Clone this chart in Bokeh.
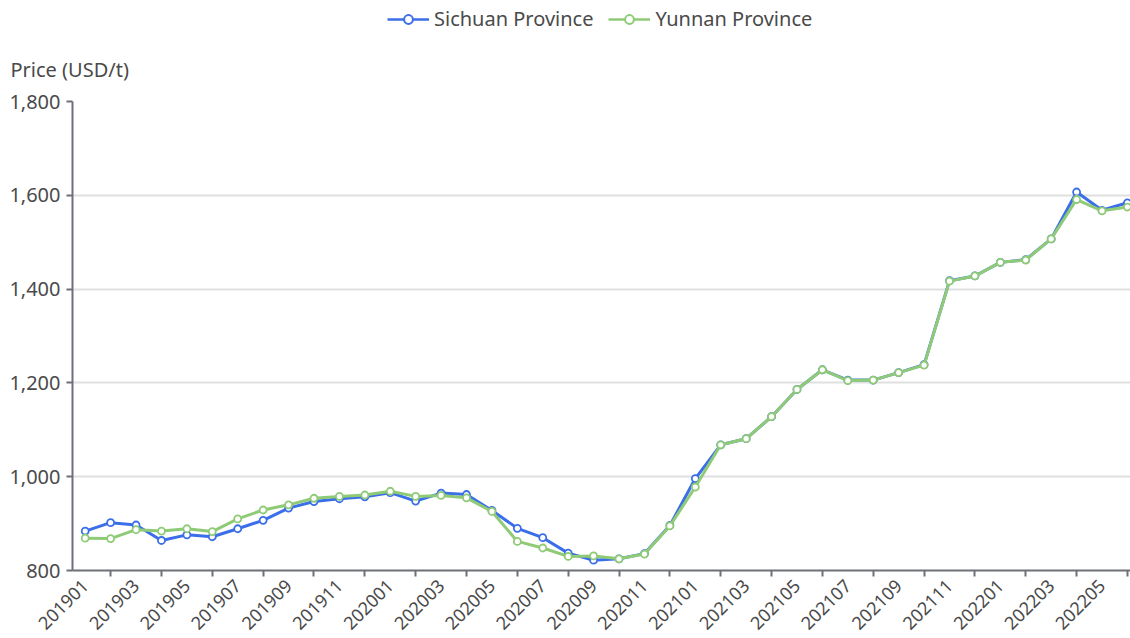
import math
from bokeh.plotting import figure
from bokeh.layouts import column
from bokeh.models import (Range1d, FixedTicker, NumeralTickFormatter, Legend,
                          LegendItem)
from bokeh.embed import file_html
from bokeh.resources import INLINE

months = ["201901", "201902", "201903", "201904", "201905", "201906",
          "201907", "201908", "201909", "201910", "201911", "201912",
          "202001", "202002", "202003", "202004", "202005", "202006",
          "202007", "202008", "202009", "202010", "202011", "202012",
          "202101", "202102", "202103", "202104", "202105", "202106",
          "202107", "202108", "202109", "202110", "202111", "202112",
          "202201", "202202", "202203", "202204", "202205", "202206"]

sichuan = [884, 902, 897, 864, 876, 872, 889, 907, 933, 947, 953, 957,
           966, 948, 965, 962, 928, 890, 870, 837, 822, 825, 836, 896,
           996, 1068, 1081, 1128, 1186, 1228, 1206, 1206, 1222, 1239, 1418, 1428,
           1457, 1463, 1507, 1607, 1568, 1584]

yunnan = [869, 868, 887, 884, 889, 883, 910, 929, 940, 954, 958, 961,
          969, 958, 960, 955, 926, 862, 848, 830, 831, 825, 835, 895,
          978, 1068, 1081, 1128, 1186, 1228, 1205, 1206, 1222, 1238, 1417, 1428,
          1457, 1462, 1507, 1591, 1567, 1575]

y_ticks = [800, 1000, 1200, 1400, 1600, 1800]
series_names = ["Sichuan Province", "Yunnan Province"]
y_name = "Price (USD/t)"

BLUE = "#3b6ee9"
GREEN = "#8fcb77"
FONT = "Noto Sans"
TXT = "#4a4a4a"
AXIS = "#6e7079"
W = 1130
HEAD_H = 34
NAN = float("nan")

idx = list(range(len(months)))

# ---------- header (legend) ----------
head = figure(width=W, height=HEAD_H, output_backend="svg", toolbar_location=None,
              x_range=Range1d(0, 1), y_range=Range1d(0, 1),
              min_border=0, min_border_left=0, min_border_right=0,
              min_border_top=0, min_border_bottom=0)
head.axis.visible = False
head.grid.visible = False
head.outline_line_color = None
head.border_fill_color = "white"
head.background_fill_color = "white"

items = []
for col, name in [(BLUE, series_names[0]), (GREEN, series_names[1])]:
    lr = head.line(x=[NAN], y=[NAN], line_color=col, line_width=2.5)
    cr = head.scatter(x=[NAN], y=[NAN], size=15, fill_color="white", line_color=col, line_width=2)
    items.append(LegendItem(label=name, renderers=[lr, cr]))

legend = Legend(items=items, orientation="horizontal", location=(315, 2),
                border_line_color=None, background_fill_alpha=0, padding=0, margin=0,
                spacing=15, glyph_width=42, glyph_height=22, label_height=22,
                label_standoff=5, label_text_font=FONT, label_text_font_size="20px",
                label_text_color=TXT, label_text_baseline="middle")
head.add_layout(legend)

# ---------- main chart ----------
p = figure(width=W, height=638 - HEAD_H, output_backend="svg", toolbar_location=None,
           x_range=Range1d(-0.5, 41.12), y_range=Range1d(800, 1800),
           min_border_left=72, min_border_right=0, min_border_top=0,
           min_border_bottom=68)
p.outline_line_color = None
p.background_fill_color = "white"
p.border_fill_color = "white"

# y-axis name as the plot's title, left-aligned over the axis labels
p.title.text = y_name
p.title.align = "left"
p.title.offset = -62
p.title.standoff = 38
p.title.text_font = FONT
p.title.text_font_size = "20px"
p.title.text_font_style = "normal"
p.title.text_color = TXT

p.xgrid.grid_line_color = None
p.ygrid.ticker = FixedTicker(ticks=y_ticks)
p.ygrid.grid_line_color = "#e0e0e0"
p.ygrid.grid_line_width = 2

p.yaxis.ticker = FixedTicker(ticks=y_ticks)
p.yaxis.formatter = NumeralTickFormatter(format="0,0")
p.yaxis.axis_line_color = AXIS
p.yaxis.axis_line_width = 2
p.yaxis.major_tick_line_color = AXIS
p.yaxis.major_tick_line_width = 2
p.yaxis.major_tick_out = 6
p.yaxis.major_tick_in = 0
p.yaxis.minor_tick_line_color = None
p.yaxis.major_label_text_font = FONT
p.yaxis.major_label_text_font_size = "20px"
p.yaxis.major_label_text_color = TXT
p.yaxis.major_label_standoff = 6

even = [i for i in idx if i % 2 == 0]
odd = [i for i in idx if i % 2 == 1]
p.xaxis.ticker = FixedTicker(ticks=even, minor_ticks=odd)
p.xaxis.major_label_overrides = {i: months[i] for i in even}
p.xaxis.major_label_orientation = math.pi / 4
p.xaxis.axis_line_color = AXIS
p.xaxis.axis_line_width = 2
p.xaxis.major_tick_out = 0
p.xaxis.major_tick_in = 0
p.xaxis.minor_tick_out = 6
p.xaxis.minor_tick_in = 0
p.xaxis.minor_tick_line_color = AXIS
p.xaxis.minor_tick_line_width = 2
p.xaxis.major_label_text_font = FONT
p.xaxis.major_label_text_font_size = "18px"
p.xaxis.major_label_text_color = TXT
p.xaxis.major_label_standoff = 6

for vals, col in [(sichuan, BLUE), (yunnan, GREEN)]:
    p.line(idx, vals, line_color=col, line_width=3)
    p.scatter(idx, vals, size=7, fill_color="white", line_color=col, line_width=1.8)

open("out.html", "w").write(file_html(column(head, p, spacing=0), INLINE))
